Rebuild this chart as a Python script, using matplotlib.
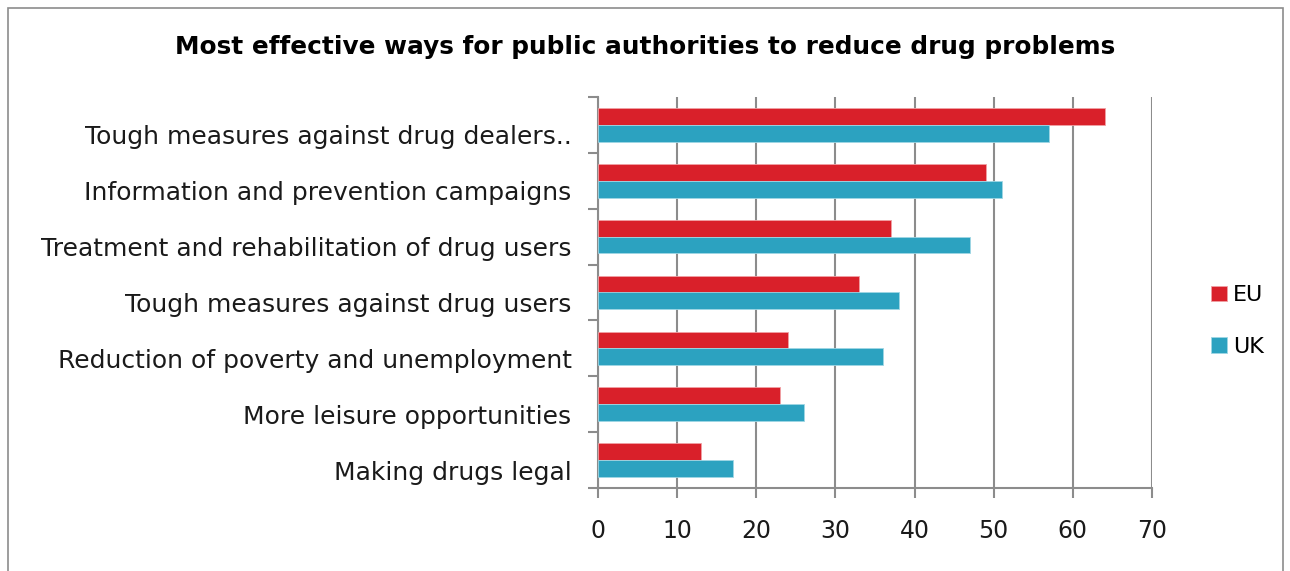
import numpy as np
import matplotlib.pyplot as plt
from matplotlib.patches import Rectangle

# -----------------------------
# Data
# -----------------------------
categories = [
    "Tough measures against drug dealers..",
    "Information and prevention campaigns",
    "Treatment and rehabilitation of drug users",
    "Tough measures against drug users",
    "Reduction of poverty and unemployment",
    "More leisure opportunities",
    "Making drugs legal",
]
eu_values = [64, 49, 37, 33, 24, 23, 13]
uk_values = [57, 51, 47, 38, 36, 26, 17]

EU_COLOR = "#d9202a"
UK_COLOR = "#2ca2c0"
GRID_COLOR = "#8c8c8c"

plt.rcParams["font.family"] = ["DejaVu Sans"]

# -----------------------------
# Plot
# -----------------------------
fig = plt.figure(figsize=(12.9, 5.71), dpi=100)
ax = fig.add_axes([598 / 1290, 1 - 488 / 571, (1152 - 598) / 1290, (488 - 97) / 571])

n = len(categories)
y = np.arange(n)[::-1]
h = 0.3

ax.barh(y + h / 2, eu_values, height=h, color=EU_COLOR, label="EU",
        edgecolor="#f0a0a4", linewidth=0.6, zorder=3)
ax.barh(y - h / 2, uk_values, height=h, color=UK_COLOR, label="UK",
        edgecolor="#9fd6e4", linewidth=0.6, zorder=3)

ax.set_xlim(0, 70)
ax.set_ylim(-0.5, n - 0.5)
ax.set_xticks(range(0, 71, 10))
ax.xaxis.grid(True, color=GRID_COLOR, linewidth=1.5)
ax.set_axisbelow(True)

# category labels sit a little below the group centre; the visible
# tick marks are the minor ones on the group boundaries
ax.set_yticks(y - 0.18)
ax.set_yticklabels(categories, fontsize=18, color="#1a1a1a")
ax.set_yticks(np.arange(-0.5, n, 1), minor=True)
ax.tick_params(axis="y", which="major", length=0, pad=19)
ax.tick_params(axis="y", which="minor", length=7, color=GRID_COLOR, width=1.5)
ax.tick_params(axis="x", length=7, color=GRID_COLOR, width=1.5, labelsize=17,
               labelcolor="#1a1a1a", pad=15)

for side in ["top", "right"]:
    ax.spines[side].set_visible(False)
for side in ["left", "bottom"]:
    ax.spines[side].set_color(GRID_COLOR)
    ax.spines[side].set_linewidth(1.5)

fig.text(645 / 1290, 1 - 47 / 571,
         "Most effective ways for public authorities to reduce drug problems",
         ha="center", va="center", fontsize=17.8, fontweight="bold")

fig.legend(loc="center left", bbox_to_anchor=(1191 / 1290, 1 - 321 / 571),
           frameon=False, fontsize=16, handlelength=0.7, handleheight=0.7,
           handletextpad=0.3, labelspacing=1.4)

# outer chart frame
fig.patches.append(Rectangle((8 / 1290, -0.05), 1275 / 1290, 1.05 - 8 / 571,
                             transform=fig.transFigure, fill=False,
                             edgecolor="#8c8c8c", linewidth=1.2))

fig.savefig("out.png", dpi=100)
